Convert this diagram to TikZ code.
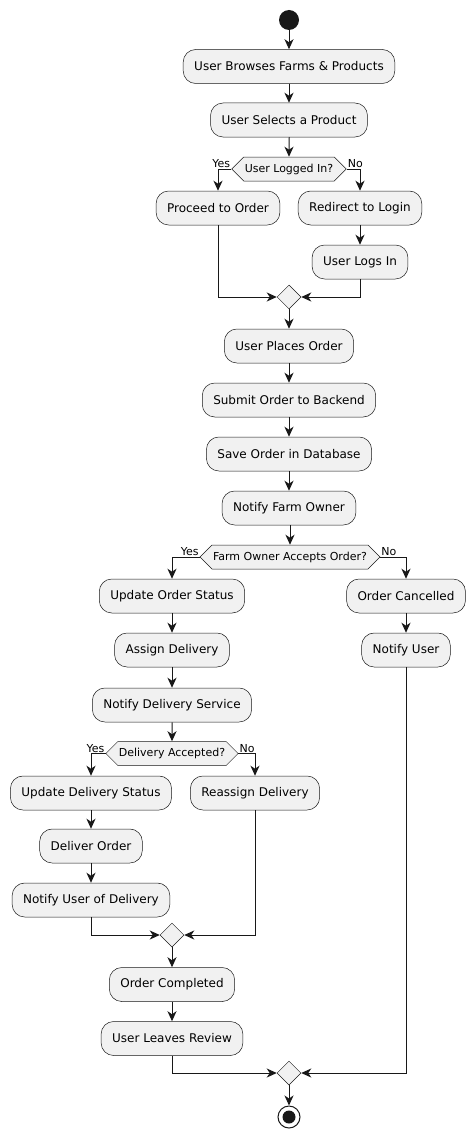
\documentclass[tikz,border=0pt]{standalone}
\usepackage{fontspec}
\setmainfont{DejaVu Sans}
\usetikzlibrary{shapes.geometric,shapes.symbols,arrows.meta}
\definecolor{umlfill}{HTML}{F1F1F1}
\definecolor{umlline}{HTML}{181818}
\tikzset{
	action/.style={draw=umlline, fill=umlfill, line width=0.5pt, rounded corners=12.5pt, minimum height=34pt, inner xsep=11pt, font=\fontsize{12}{14}\selectfont},
	choice/.style={draw=umlline, fill=umlfill, line width=0.5pt, signal, signal to=west and east, signal pointer angle=90, minimum height=24pt, inner xsep=1pt, inner ysep=0pt, font=\fontsize{11}{13}\selectfont},
	merge/.style={draw=umlline, fill=umlfill, line width=0.5pt, diamond, minimum size=24pt, inner sep=0pt},
	flow/.style={draw=umlline, line width=1pt, -{Stealth[length=10pt, width=9pt, inset=3pt]}},
	guard/.style={font=\fontsize{11}{13}\selectfont, inner sep=1pt},
}
\begin{document}
\begin{tikzpicture}[x=1pt, y=-1pt]
	\useasboundingbox (0,0) rectangle (475,1137);
	\node [circle, fill=umlline, minimum size=20pt, inner sep=0pt] (start) at (289,20) {};
	\node [action] (browse) at (289,66.5) {User Browses Farms \& Products};
	\node [action] (select) at (289,120) {User Selects a Product};
	\node [choice] (loggedin) at (289,169) {User Logged In?};
	\node [action] (proceed) at (218,208) {Proceed to Order};
	\node [action] (redirect) at (360,208) {Redirect to Login};
	\node [action] (logsin) at (360,262) {User Logs In};
	\node [merge] (mergelogin) at (289,297) {};
	\node [action] (place) at (289,346) {User Places Order};
	\node [action] (submit) at (289,400) {Submit Order to Backend};
	\node [action] (save) at (289,454) {Save Order in Database};
	\node [action] (notifyowner) at (289,508) {Notify Farm Owner};
	\node [choice] (accepts) at (290,557) {Farm Owner Accepts Order?};
	\node [action] (updstatus) at (172,596) {Update Order Status};
	\node [action] (cancelled) at (406,596) {Order Cancelled};
	\node [action] (notifyuser) at (406,650) {Notify User};
	\node [action] (assign) at (172,650) {Assign Delivery};
	\node [action] (notifyservice) at (172,705) {Notify Delivery Service};
	\node [choice] (delaccepted) at (172,753.5) {Delivery Accepted?};
	\node [action] (upddelivery) at (91,793) {Update Delivery Status};
	\node [action] (reassign) at (255,793) {Reassign Delivery};
	\node [action] (deliver) at (91,846) {Deliver Order};
	\node [action] (notifydelivery) at (91,900) {Notify User of Delivery};
	\node [merge] (mergedelivery) at (172,935) {};
	\node [action] (completed) at (172,984.5) {Order Completed};
	\node [action] (review) at (172,1038.5) {User Leaves Review};
	\node [merge] (mergeorder) at (289,1073) {};
	\node [circle, draw=umlline, fill=white, line width=1pt, minimum size=22pt, inner sep=0pt,
		path picture={\fill [umlline] (path picture bounding box.center) circle (6.5pt);}] (stop) at (289,1117) {};
	\node [guard, anchor=south east] (yeslogin) at (loggedin.west) {Yes};
	\node [guard, anchor=south west] (nologin) at (loggedin.east) {No};
	\node [guard, anchor=south east] (yesowner) at (accepts.west) {Yes};
	\node [guard, anchor=south west] (noowner) at (accepts.east) {No};
	\node [guard, anchor=south east] (yesdelivery) at (delaccepted.west) {Yes};
	\node [guard, anchor=south west] (nodelivery) at (delaccepted.east) {No};
	\draw [flow] (start) -- (browse);
	\draw [flow] (browse) -- (select);
	\draw [flow] (select) -- (loggedin);
	\draw [flow] (loggedin.west) -| (proceed.north);
	\draw [flow] (loggedin.east) -| (redirect.north);
	\draw [flow] (redirect) -- (logsin);
	\draw [flow] (proceed.south) |- (mergelogin.west);
	\draw [flow] (logsin.south) |- (mergelogin.east);
	\draw [flow] (mergelogin) -- (place);
	\draw [flow] (place) -- (submit);
	\draw [flow] (submit) -- (save);
	\draw [flow] (save) -- (notifyowner);
	\draw [flow] (notifyowner.south -| accepts.north) -- (accepts.north);
	\draw [flow] (accepts.west) -| (updstatus.north);
	\draw [flow] (accepts.east) -| (cancelled.north);
	\draw [flow] (cancelled) -- (notifyuser);
	\draw [flow] (updstatus) -- (assign);
	\draw [flow] (assign) -- (notifyservice);
	\draw [flow] (notifyservice) -- (delaccepted);
	\draw [flow] (delaccepted.west) -| (upddelivery.north);
	\draw [flow] (delaccepted.east) -| (reassign.north);
	\draw [flow] (upddelivery) -- (deliver);
	\draw [flow] (deliver) -- (notifydelivery);
	\draw [flow] (notifydelivery.south) |- (mergedelivery.west);
	\draw [flow] (reassign.south) |- (mergedelivery.east);
	\draw [flow] (mergedelivery) -- (completed);
	\draw [flow] (completed) -- (review);
	\draw [flow] (review.south) |- (mergeorder.west);
	\draw [flow] (notifyuser.south) |- (mergeorder.east);
	\draw [flow] (mergeorder) -- (stop);
\end{tikzpicture}
\end{document}
